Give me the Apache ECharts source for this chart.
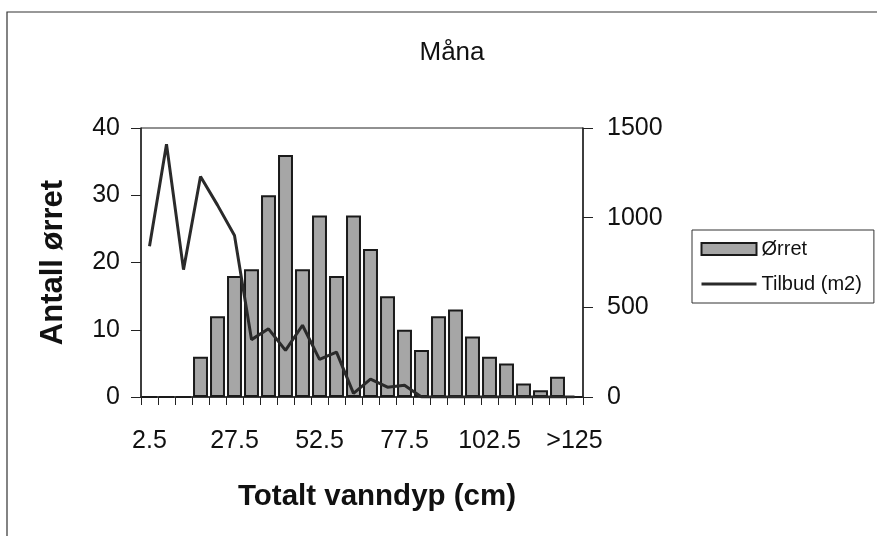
<!DOCTYPE html>
<html>
<head>
<meta charset="utf-8">
<script src="https://cdn.jsdelivr.net/npm/echarts@6/dist/echarts.min.js"></script>
<style>
  html, body { margin: 0; padding: 0; background: #fff; }
  #main { width: 877px; height: 536px; }
</style>
</head>
<body>
<div id="main"></div>
<script>
// dybde-klasser (cm)
var depths = ['2.5', '7.5', '12.5', '17.5', '22.5', '27.5', '32.5', '37.5', '42.5', '47.5',
  '52.5', '57.5', '62.5', '67.5', '72.5', '77.5', '82.5', '87.5', '92.5', '97.5',
  '102.5', '107.5', '112.5', '117.5', '122.5', '>125'];
// antall ørret per klasse
var orret = [0, 0, 0, 6, 12, 18, 19, 30, 36, 19, 27, 18, 27, 22, 15, 10, 7, 12, 13, 9, 6, 5, 2, 1, 3, 0];
// tilbud (m2) per klasse
var tilbud = [840, 1410, 710, 1230, 1070, 900, 320, 380, 260, 400, 210, 250, 20, 100, 55, 65, 0, 0, 0, 0, 0, 0, 0, 0, 0, 0];

var font = "'Liberation Sans', Arial, Helvetica, sans-serif";
var chart = echarts.init(document.getElementById('main'), null, { renderer: 'canvas' });

var option = {
  backgroundColor: '#fff',
  animation: false,
  textStyle: { fontFamily: font, color: '#111' },
  title: {
    text: 'Måna',
    left: 447,
    top: 35,
    textAlign: 'center',
    textStyle: { fontFamily: font, fontSize: 26, fontWeight: 'normal', color: '#111' }
  },
  legend: {
    orient: 'vertical',
    left: 692,
    top: 230,
    itemWidth: 55,
    itemHeight: 12,
    itemGap: 15,
    padding: [9, 12, 9, 8],
    borderColor: '#333',
    borderWidth: 1,
    textStyle: { fontFamily: font, fontSize: 20, color: '#111' },
    data: [
      { name: 'Ørret', icon: 'rect' },
      { name: 'Tilbud (m2)', itemStyle: { opacity: 0 }, lineStyle: { width: 3, color: '#2a2a2a' } }
    ]
  },
  grid: {
    left: 141,
    right: 294,
    top: 128,
    bottom: 139,
    show: true,
    borderColor: '#222',
    borderWidth: 1
  },
  xAxis: {
    type: 'category',
    data: depths,
    name: 'Totalt vanndyp (cm)',
    nameLocation: 'middle',
    nameGap: 85,
    nameTextStyle: { fontFamily: font, fontSize: 29.5, fontWeight: 'bold', color: '#111', padding: [0, 0, 0, 30] },
    axisLine: { lineStyle: { color: '#222', width: 1.5 } },
    axisTick: { show: true, interval: 0, length: 8, lineStyle: { color: '#222' } },
    axisLabel: { interval: 4, margin: 32, fontSize: 25, color: '#111', fontFamily: font },
    splitLine: { show: false }
  },
  yAxis: [
    {
      type: 'value',
      min: 0,
      max: 40,
      interval: 10,
      name: 'Antall ørret',
      nameLocation: 'middle',
      nameGap: 72,
      nameTextStyle: { fontFamily: font, fontSize: 31, fontWeight: 'bold', color: '#111' },
      axisLine: { show: true, lineStyle: { color: '#222', width: 1.5 } },
      axisTick: { show: true, length: 10, lineStyle: { color: '#222' } },
      axisLabel: { margin: 21, fontSize: 25, color: '#111', fontFamily: font },
      splitLine: { show: false }
    },
    {
      type: 'value',
      min: 0,
      max: 1500,
      interval: 500,
      position: 'right',
      axisLine: { show: true, lineStyle: { color: '#222', width: 1.5 } },
      axisTick: { show: true, length: 10, lineStyle: { color: '#222' } },
      axisLabel: { margin: 24, fontSize: 25, color: '#111', fontFamily: font, formatter: function (v) { return String(v); } },
      splitLine: { show: false }
    }
  ],
  series: [
    {
      name: 'Ørret',
      type: 'bar',
      yAxisIndex: 0,
      data: orret,
      barCategoryGap: '12%',
      itemStyle: { color: '#a6a6a6', borderColor: '#1a1a1a', borderWidth: 2 }
    },
    {
      name: 'Tilbud (m2)',
      type: 'line',
      yAxisIndex: 1,
      data: tilbud,
      symbol: 'none',
      lineStyle: { color: '#2a2a2a', width: 3 },
      itemStyle: { color: '#2a2a2a' }
    }
  ],
  graphic: [
    {
      type: 'polyline',
      shape: { points: [[7, 536], [7, 12], [877, 12]] },
      style: { stroke: '#333', lineWidth: 1.2, fill: null }
    }
  ]
};
chart.setOption(option);
</script>
</body>
</html>
